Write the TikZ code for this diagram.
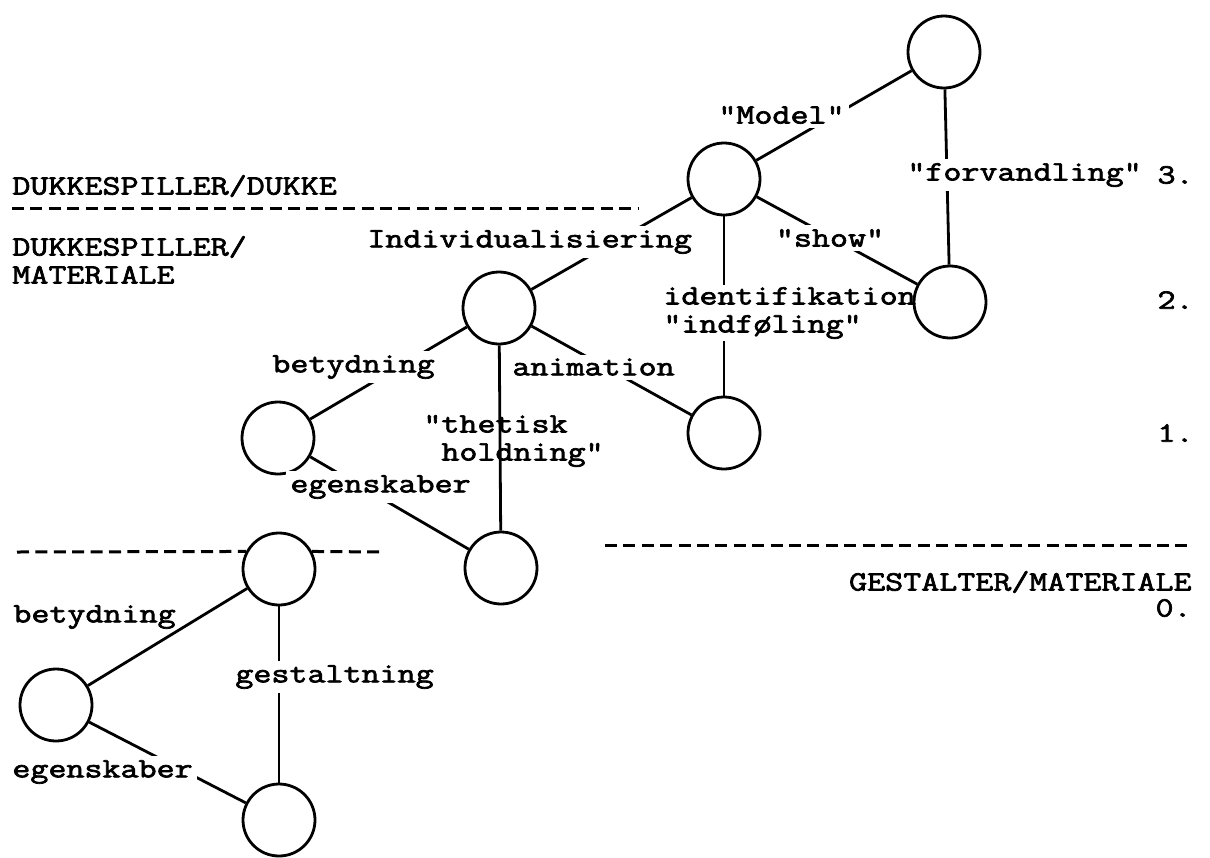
\documentclass[tikz,border=0pt]{standalone}
\usepackage{fontspec}
\newfontfamily\typewriter[FakeStretch=1.25, FakeBold=2.5]{Latin Modern Mono}

\begin{document}
\begin{tikzpicture}[x=0.5pt, y=-0.5pt,
        ring/.style={circle, draw, line width=1.4pt, minimum size=36pt, inner sep=0pt},
        link/.style={line width=1.4pt},
        sep/.style={line width=1.5pt, dash pattern=on 6pt off 3.2pt},
        txt/.style={font=\typewriter\fontsize{14pt}{14pt}\selectfont, inner sep=1pt, align=left},
        lbl/.style={txt, fill=white, inner sep=2pt}]
        \useasboundingbox (0,0) rectangle (1210,857);
        % circles
        \node[ring] (top) at (944,52) {};
        \node[ring] (model) at (724,179) {};
        \node[ring] (show) at (950,302) {};
        \node[ring] (indiv) at (499,308) {};
        \node[ring] (anim) at (724,433) {};
        \node[ring] (bet) at (278,438) {};
        \node[ring] (thet) at (501,568) {};
        \node[ring] (gest) at (279,569) {};
        \node[ring] (mat) at (56,705) {};
        \node[ring] (form) at (279,820) {};

        % level lines
        \draw[sep] (12,208) -- (638,208);
        \draw[sep] (605,545) -- (1192,545);
        \draw[sep] (17,552) -- (gest.152);
        \draw[sep] (gest.28) -- (383,552);

        % level texts
        \node[txt, anchor=west] (dd) at (10,186) {DUKKESPILLER/DUKKE};
        \node[txt, anchor=west] (dm) at (10,260) {DUKKESPILLER/\\MATERIALE};
        \node[txt, anchor=east] (gm) at (1194,582) {GESTALTER/MATERIALE};
        \node[txt, anchor=east] (n3) at (1196,175) {3.};
        \node[txt, anchor=east] (n2) at (1196,300) {2.};
        \node[txt, anchor=east] (n1) at (1196,433) {1.};
        \node[txt, anchor=east] (n0) at (1194,608) {0.};

        % connectors
        \draw[link] (top) -- (model);
        \draw[link] (top) -- (show);
        \draw[link] (model) -- (show);
        \draw[link] (model) -- (indiv);
        \draw[link] (indiv) -- (bet);
        \draw[link] (indiv) -- (anim);
        \draw[link] (indiv) -- (thet);
        \draw[link] (bet) -- (thet);
        \draw[link] (gest) -- (mat);
        \draw[link] (gest) -- (form);
        \draw[link] (mat) -- (form);

        % labels on the connectors
        \node[lbl, anchor=west] (mdl) at (714,115) {"Model"};
        \node[lbl, anchor=west] (forv) at (903,175) {"forvandling"};
        \node[lbl] (shw) at (830,238) {"show"};
        \node[lbl, anchor=west] (ind) at (363,242) {Individualisiering};
        \node[txt, anchor=west] (ident) at (661,313) {identifikation\\"indføling"};
        \draw[link] (model) -- (model |- ident.north);
        \draw[link] (anim |- ident.south) -- (anim);
        \node[lbl, anchor=west] (bty) at (268,367) {betydning};
        \node[lbl, anchor=west] (ani) at (508,367) {animation};
        \node[txt, anchor=west] (hold) at (421,441) {"thetisk\\\hphantom{"}holdning"};
        \node[lbl, anchor=west] (egs) at (286,487) {egenskaber};
        \node[txt, anchor=west] (bty0) at (11,617) {betydning};
        \node[lbl, anchor=west] (gst) at (231,677) {gestaltning};
        \node[lbl, anchor=west] (egs0) at (8,772) {egenskaber};
\end{tikzpicture}
\end{document}
